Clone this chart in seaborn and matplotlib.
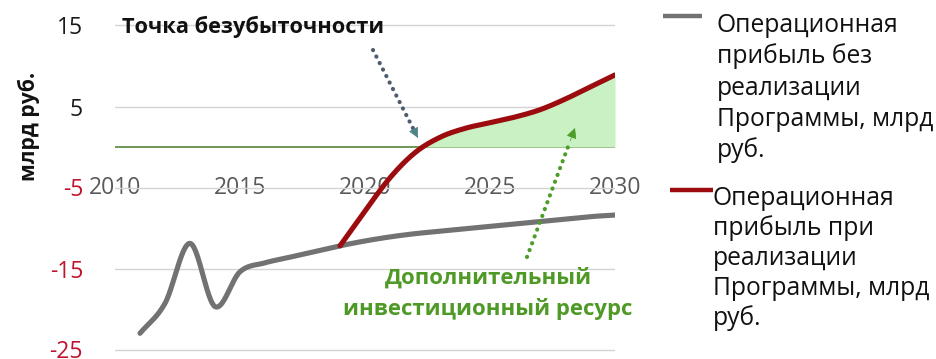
import numpy as np
import pandas as pd
import matplotlib
matplotlib.use("Agg")
import matplotlib.pyplot as plt
from matplotlib.lines import Line2D
import seaborn as sns

# Operating profit without the Programme, bn RUB
years_base = [2011, 2012, 2013, 2014, 2015, 2016, 2017, 2018, 2019, 2020,
              2021, 2022, 2023, 2024, 2025, 2026, 2027, 2028, 2029, 2030]
profit_base = [-23.0, -19.3, -11.9, -19.7, -15.4, -14.3, -13.6, -12.9, -12.2, -11.6,
               -11.1, -10.7, -10.4, -10.1, -9.8, -9.5, -9.2, -8.9, -8.6, -8.4]

# Operating profit with the Programme, bn RUB
years_prog = [2019, 2020, 2021, 2022, 2023, 2024, 2025, 2026, 2027, 2028, 2029, 2030]
profit_prog = [-12.2, -7.9, -3.8, -0.7, 1.2, 2.3, 3.0, 3.7, 4.6, 5.9, 7.4, 8.9]

x_ticks = [2010, 2015, 2020, 2025, 2030]
y_ticks = [-25, -15, -5, 5, 15]

label_base = ["Операционная", "прибыль без", "реализации", "Программы, млрд", "руб."]
label_prog = ["Операционная", "прибыль при", "реализации", "Программы, млрд", "руб."]
note_breakeven = "Точка безубыточности"
note_resource = ["Дополнительный", "инвестиционный ресурс"]
y_title = "млрд руб."

GRAY = "#727272"
RED = "#9c0b0e"
FILL = "#c9f1c3"
ZERO = "#467a26"
GRID = "#d4d4d4"
GREEN_TXT = "#4f9a26"

sns.set_theme(style="white")
plt.rcParams["font.family"] = ["Open Sans", "DejaVu Sans"]
plt.rcParams["axes.unicode_minus"] = False

W, H = 937, 359
fig = plt.figure(figsize=(W / 100, H / 100), dpi=100)


def fx(px):
    return px / W


def fy(py):
    return 1 - py / H


# plot area: x 2010..2030 spans pixels 115..615, y scale 8.1 px per unit with 0 at y=147
y_top, y_bot = 15.5, -25.4
top_px = 147 - 8.1 * y_top
bot_px = 147 - 8.1 * y_bot
ax = fig.add_axes([fx(115), fy(bot_px), fx(615) - fx(115), (bot_px - top_px) / H])
ax.set_xlim(2010, 2030)
ax.set_ylim(y_bot, y_top)


def smooth(xs, ys, n=40):
    """Excel-style smoothed line (uniform Catmull-Rom through the points)."""
    p = np.column_stack([xs, ys]).astype(float)
    p = np.vstack([2 * p[0] - p[1], p, 2 * p[-1] - p[-2]])
    out = []
    t = np.linspace(0, 1, n, endpoint=False)[:, None]
    for i in range(1, len(p) - 2):
        p0, p1, p2, p3 = p[i - 1], p[i], p[i + 1], p[i + 2]
        seg = 0.5 * (2 * p1 + (-p0 + p2) * t + (2 * p0 - 5 * p1 + 4 * p2 - p3) * t ** 2
                     + (-p0 + 3 * p1 - 3 * p2 + p3) * t ** 3)
        out.append(seg)
    out.append(p[-2][None, :])
    arr = np.vstack(out)
    return pd.DataFrame({"year": arr[:, 0], "value": arr[:, 1]})


base_df = smooth(years_base, profit_base)
prog_df = smooth(years_prog, profit_prog)

# gridlines and break-even line
ax.set_yticks(y_ticks)
ax.yaxis.grid(True, color=GRID, lw=1.0, zorder=0)
ax.xaxis.grid(False)
ax.axhline(0, color=ZERO, lw=1.1, zorder=1)

# additional investment resource: area between the Programme line and zero
ax.fill_between(prog_df["year"], 0, prog_df["value"], where=prog_df["value"] >= 0,
                interpolate=True, color=FILL, lw=0, zorder=1.5)

sns.lineplot(data=base_df, x="year", y="value", sort=False, estimator=None,
             color=GRAY, lw=3.7, ax=ax, zorder=3, solid_capstyle="round")
sns.lineplot(data=prog_df, x="year", y="value", sort=False, estimator=None,
             color=RED, lw=3.7, ax=ax, zorder=4, solid_capstyle="round")

for s in ax.spines.values():
    s.set_visible(False)
ax.spines["bottom"].set_position(("data", -5))
ax.set_xlabel("")
ax.set_ylabel("")

ax.set_xticks(x_ticks)
ax.set_xticklabels([str(v) for v in x_ticks])
ax.tick_params(axis="x", length=0, pad=0, labelsize=16.5, labelcolor="#595959")
for lbl in ax.get_xticklabels():
    lbl.set_va("center")

ax.set_yticklabels([str(v) for v in y_ticks])
ax.tick_params(axis="y", length=0, pad=23, labelsize=16.5)
for lbl, v in zip(ax.get_yticklabels(), y_ticks):
    lbl.set_color("#c0122c" if v < 0 else "#1a1a1a")


def px2data(px, py):
    return 2010 + (px - 115) / 25.0, (147 - py) / 8.1


def dotted_arrow(p_start, p_tip, dot_color, head_color):
    x0, y0 = px2data(*p_start)
    x1, y1 = px2data(*p_tip)
    xm, ym = x0 + (x1 - x0) * 0.9, y0 + (y1 - y0) * 0.9
    ax.plot([x0, xm], [y0, ym], color=dot_color, lw=3.0,
            linestyle=(0, (0.05, 1.7)), dash_capstyle="round", zorder=5)
    ax.annotate("", xy=(x1, y1), xytext=(xm, ym),
                arrowprops=dict(arrowstyle="-|>", color=head_color, lw=0.5,
                                mutation_scale=16, shrinkA=0, shrinkB=0), zorder=5)


dotted_arrow((373, 50), (418, 138), "#4f5c6e", "#4d8488")
dotted_arrow((527, 257), (575, 128), "#4e9d2a", "#4e9d2a")

renderer = fig.canvas.get_renderer()


def fit_width(t, target):
    bb = t.get_window_extent(renderer)
    t.set_fontsize(t.get_fontsize() * target / bb.width)
    return t.get_fontsize()


def fit_height(t, target):
    bb = t.get_window_extent(renderer)
    t.set_fontsize(t.get_fontsize() * target / bb.height)


t = fig.text(fx(122), fy(27), note_breakeven, ha="left", va="center",
             fontsize=14, fontweight="bold", color="#111111")
fit_width(t, 263)

t2 = fig.text(fx(488), fy(309), note_resource[1], ha="center", va="center",
              fontsize=14, fontweight="bold", color=GREEN_TXT)
fs_green = fit_width(t2, 290)
fig.text(fx(488), fy(278), note_resource[0], ha="center", va="center",
         fontsize=fs_green, fontweight="bold", color=GREEN_TXT)

ty = fig.text(fx(29), fy(126), y_title, rotation=90, ha="center", va="center",
              fontsize=13, fontweight="bold", color="#111111")
fit_height(ty, 108)

# legend
fig.add_artist(Line2D([fx(663), fx(702)], [fy(16), fy(16)], color=GRAY, lw=3.2,
                      solid_capstyle="butt"))
fig.add_artist(Line2D([fx(670), fx(713)], [fy(190), fy(190)], color=RED, lw=3.2,
                      solid_capstyle="butt"))

probe = fig.text(fx(717), fy(127), label_base[3], ha="left", va="baseline", fontsize=15)
fs_leg = fit_width(probe, 216)
probe.remove()
for i, line in enumerate(label_base):
    fig.text(fx(717), fy(32 + 31.3 * i), line, ha="left", va="baseline",
             fontsize=fs_leg, color="#111111")
for i, line in enumerate(label_prog):
    fig.text(fx(713), fy(205 + 30.0 * i), line, ha="left", va="baseline",
             fontsize=fs_leg, color="#111111")

fig.savefig("out.png", dpi=100, facecolor="white")
